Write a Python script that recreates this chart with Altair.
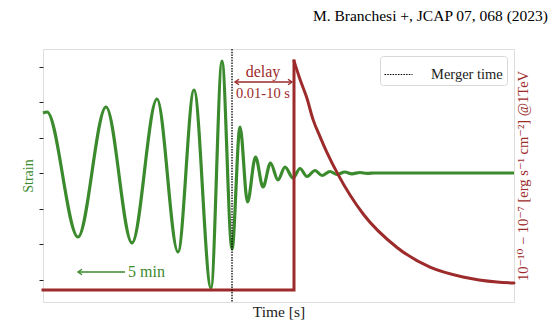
import altair as alt
import pandas as pd

# ---------------- data ----------------
# gravitational-wave strain (arbitrary units) vs time (arbitrary units, 0-100)
gw_time = [0, 0.85, 7.43, 13.38, 18.90, 24.20, 28.66, 32.06, 35.67, 38.00, 40.13,
           41.83, 43.42, 45.12, 46.71, 48.30, 49.89, 51.38, 53.08, 54.56, 56.05,
           57.75, 59.24, 60.93, 62.42, 64.10, 65.60, 67.30, 68.80, 70.50, 100]
gw_strain = [0.60, 0.61, -0.64, 0.66, -0.70, 0.74, -0.79, 0.83, -1.15, 1.12, -0.76,
             0.46, -0.29, 0.16, -0.14, 0.10, -0.07, 0.06, -0.05, 0.045, -0.035,
             0.025, -0.025, 0.015, -0.015, 0.010, -0.008, 0.005, -0.004, 0.0, 0.0]

# TeV light curve (normalised flux): flat, prompt rise, decay
step_time = [0, 53.29, 53.29]
step_flux = [0.0, 0.0, 1.0]
decay_time = [53.29, 54.56, 55.99, 57.32, 58.81, 60.30, 62.63, 67.94, 75.16,
              82.17, 89.17, 96.39, 100]
decay_flux = [1.0, 0.92, 0.84, 0.745, 0.67, 0.60, 0.505, 0.333, 0.186,
              0.100, 0.057, 0.035, 0.031]

merger_time = [40.13]
merger_label = ["Merger time"]

# annotations
delay_arrow_t = [40.76, 52.87]
delay_arrow_f = 0.908
delay_text = ["delay", "0.01-10 s"]
delay_text_f = [0.952, 0.856]
delay_text_t = 46.7

min_arrow_t = [7.43, 17.41]
min_arrow_h = -0.99
min_text = "5 min"
min_text_t = 18.05

# ---------------- style ----------------
GREEN = "#3b8a2d"
RED = "#9d2b2b"
FONT = "'Liberation Serif', 'DejaVu Serif', serif"

x_scale = alt.Scale(domain=[0, 100], nice=False, zero=False)
strain_scale = alt.Scale(domain=[-1.29, 1.24], nice=False, zero=False)
flux_scale = alt.Scale(domain=[-0.052, 1.052], nice=False, zero=False)
x_axis = alt.Axis(title="Time [s]", ticks=False, labels=False, domain=False,
                  grid=False, titleFont=FONT, titleFontSize=15.5,
                  titleFontWeight="normal", titleColor="#222", titlePadding=2)
x_enc = alt.X("t:Q", scale=x_scale, axis=x_axis)

LEFT_PATH = "M 2 -1.4 L 0 0 L 2 1.4"
RIGHT_PATH = "M -2 -1.4 L 0 0 L -2 1.4"
shape_scale = alt.Scale(domain=["L", "R"], range=[LEFT_PATH, RIGHT_PATH])

# ---------------- layers ----------------
gw_df = pd.DataFrame({"t": gw_time, "h": gw_strain})
green = alt.Chart(gw_df).mark_line(
    color=GREEN, strokeWidth=3.2, interpolate="monotone"
).encode(
    x=x_enc,
    y=alt.Y("h:Q", scale=strain_scale,
            axis=alt.Axis(title="Strain",
                          values=[-1.065, -0.71, -0.355, 0, 0.355, 0.71, 1.065],
                          labels=False, ticks=True, tickSize=4, tickColor="#222",
                          tickWidth=1, domain=False, grid=False, titleColor=GREEN,
                          titleFont=FONT, titleFontSize=14, titleFontWeight="normal",
                          titlePadding=3)),
)

step_df = pd.DataFrame({"t": step_time, "f": step_flux, "i": range(len(step_time))})
red_step = alt.Chart(step_df).mark_line(
    color=RED, strokeWidth=3, strokeJoin="miter", strokeCap="square"
).encode(
    x=x_enc,
    y=alt.Y("f:Q", scale=flux_scale,
            axis=alt.Axis(orient="right",
                          title="10⁻¹⁰ − 10⁻⁷ [erg s⁻¹ cm⁻²] @1TeV",
                          labels=False, ticks=False, domain=False, grid=False,
                          titleColor=RED, titleAngle=270, titleFont=FONT,
                          titleFontSize=14.5, titleFontWeight="normal",
                          titlePadding=16)),
    order="i:Q",
)

decay_df = pd.DataFrame({"t": decay_time, "f": decay_flux})
red_decay = alt.Chart(decay_df).mark_line(
    color=RED, strokeWidth=3, interpolate="monotone", strokeCap="round"
).encode(
    x=x_enc,
    y=alt.Y("f:Q", scale=flux_scale, axis=None),
)

merger_df = pd.DataFrame({"t": merger_time, "lab": merger_label})
merger = alt.Chart(merger_df).mark_rule(color="black", strokeWidth=1.3).encode(
    x=x_enc,
    strokeDash=alt.StrokeDash(
        "lab:N", scale=alt.Scale(range=[[1.5, 1.2]]),
        legend=alt.Legend(title=None, orient="top-right", offset=7, padding=4,
                          fillColor="white", strokeColor="#d8d8d8", cornerRadius=3,
                          symbolType="stroke", symbolStrokeColor="black",
                          symbolStrokeWidth=1, symbolSize=784,
                          labelFont=FONT, labelFontSize=14.5, labelColor="#222",
                          labelOffset=18)),
)

# delay arrow
delay_df = pd.DataFrame({"t": [delay_arrow_t[0]], "t2": [delay_arrow_t[1]],
                         "f": [delay_arrow_f]})
delay_shaft = alt.Chart(delay_df).mark_rule(color=RED, strokeWidth=1.4).encode(
    x=x_enc, x2="t2:Q",
    y=alt.Y("f:Q", scale=flux_scale, axis=None),
)
delay_heads_df = pd.DataFrame({"t": delay_arrow_t, "f": [delay_arrow_f] * 2,
                               "dir": ["L", "R"]})
delay_heads = alt.Chart(delay_heads_df).mark_point(
    color=RED, filled=False, strokeWidth=1.4, size=16, opacity=1
).encode(
    x=x_enc,
    y=alt.Y("f:Q", scale=flux_scale, axis=None),
    shape=alt.Shape("dir:N", scale=shape_scale, legend=None),
)
delay_txt_df = pd.DataFrame({"t": [delay_text_t] * 2, "f": delay_text_f,
                             "txt": delay_text, "size": [16, 14.5]})
delay_txt = alt.Chart(delay_txt_df).mark_text(
    color=RED, font=FONT, baseline="middle", align="center"
).encode(
    x=x_enc,
    y=alt.Y("f:Q", scale=flux_scale, axis=None),
    text="txt:N",
    size=alt.Size("size:Q", scale=None, legend=None),
)

# 5 min arrow
min_df = pd.DataFrame({"t": [min_arrow_t[0]], "t2": [min_arrow_t[1]],
                       "h": [min_arrow_h]})
min_shaft = alt.Chart(min_df).mark_rule(color=GREEN, strokeWidth=1.4).encode(
    x=x_enc, x2="t2:Q",
    y=alt.Y("h:Q", scale=strain_scale, axis=None),
)
min_head_df = pd.DataFrame({"t": [min_arrow_t[0]], "h": [min_arrow_h], "dir": ["L"]})
min_head = alt.Chart(min_head_df).mark_point(
    color=GREEN, filled=False, strokeWidth=1.4, size=16, opacity=1
).encode(
    x=x_enc,
    y=alt.Y("h:Q", scale=strain_scale, axis=None),
    shape=alt.Shape("dir:N", scale=shape_scale, legend=None),
)
min_txt_df = pd.DataFrame({"t": [min_text_t], "h": [min_arrow_h], "txt": [min_text]})
min_txt = alt.Chart(min_txt_df).mark_text(
    color=GREEN, font=FONT, fontSize=16, baseline="middle", align="left"
).encode(
    x=x_enc,
    y=alt.Y("h:Q", scale=strain_scale, axis=None),
    text="txt:N",
)

chart = alt.layer(
    green, red_step, red_decay, delay_shaft, delay_heads, delay_txt,
    min_shaft, min_head, min_txt, merger
).resolve_scale(
    y="independent"
).properties(
    width=471, height=253,
    autosize=alt.AutoSizeParams(type="none"),
    padding={"left": 43, "top": 49, "right": 46, "bottom": 21},
    title=alt.TitleParams("M. Branchesi +, JCAP 07, 068 (2023)", anchor="end",
                          frame="group", font=FONT, fontSize=15.5,
                          fontWeight="normal", color="black", dx=34, offset=24),
).configure_view(
    stroke="#222", strokeWidth=1.3
).configure(
    background="white"
)

chart.save("out.html", embed_options={"renderer": "svg", "actions": False})
